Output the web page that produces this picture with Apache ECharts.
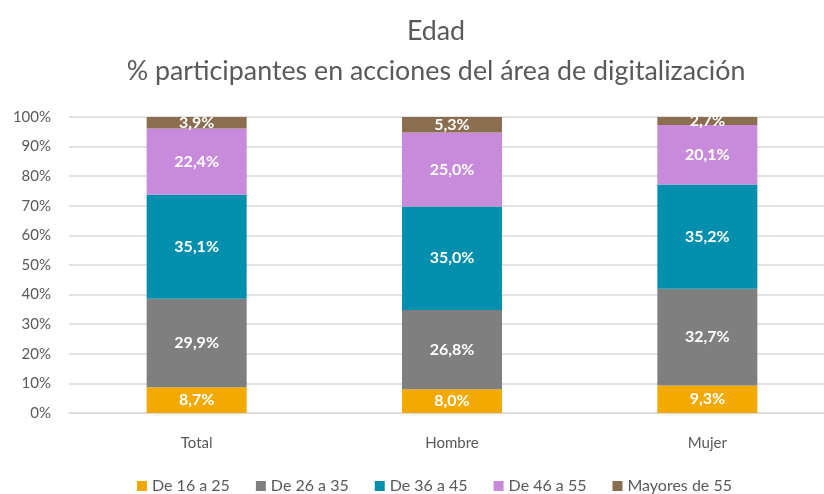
<!DOCTYPE html>
<html>
<head>
<meta charset="utf-8">
<script src="https://cdn.jsdelivr.net/npm/echarts@6/dist/echarts.min.js"></script>
<style>
  html, body { margin: 0; padding: 0; background: #fff; }
  #chart { width: 824px; height: 494px; }
</style>
</head>
<body>
<div id="chart"></div>
<script>
const categories = ['Total', 'Hombre', 'Mujer'];
const seriesNames = ['De 16 a 25', 'De 26 a 35', 'De 36 a 45', 'De 46 a 55', 'Mayores de 55'];
const de16a25 = [8.7, 8.0, 9.3];
const de26a35 = [29.9, 26.8, 32.7];
const de36a45 = [35.1, 35.0, 35.2];
const de46a55 = [22.4, 25.0, 20.1];
const mayores55 = [3.9, 5.3, 2.7];
const yTicks = [0, 10, 20, 30, 40, 50, 60, 70, 80, 90, 100];

const colors = ['#F2A900', '#7F7F7F', '#008FAC', '#C88BDB', '#8B6D4F'];
const values = [de16a25, de26a35, de36a45, de46a55, mayores55];
const font = 'Lato, "Open Sans", sans-serif';

const chart = echarts.init(document.getElementById('chart'));

chart.setOption({
  animation: false,
  color: colors,
  title: {
    text: 'Edad\n% participantes en acciones del área de digitalización',
    left: 431,
    textAlign: 'center',
    top: 6,
    textStyle: {
      fontFamily: font,
      fontWeight: 'normal',
      fontSize: 26.8,
      color: '#595959',
      lineHeight: 40
    }
  },
  legend: {
    top: 478,
    left: 137,
    padding: 0,
    itemWidth: 10,
    itemHeight: 10,
    itemGap: 26,
    icon: 'rect',
    textStyle: { fontFamily: font, fontSize: 16, color: '#595959' },
    data: seriesNames
  },
  grid: { left: 69, top: 117, width: 766, height: 296, outerBoundsMode: 'none', containLabel: false },
  xAxis: {
    type: 'category',
    data: categories,
    axisLine: { show: true, lineStyle: { color: '#d9d9d9' } },
    axisTick: { show: false },
    axisLabel: { fontFamily: font, fontSize: 15, color: '#595959', margin: 23 }
  },
  yAxis: {
    type: 'value',
    min: yTicks[0],
    max: yTicks[yTicks.length - 1],
    interval: 10,
    axisLine: { show: false },
    axisTick: { show: false },
    splitLine: { lineStyle: { color: '#d9d9d9', width: 1.5 } },
    axisLabel: {
      fontFamily: font, fontSize: 15, color: '#595959', margin: 18,
      formatter: v => v + '%'
    }
  },
  series: seriesNames.map((name, i) => ({
    name: name,
    type: 'bar',
    stack: 'total',
    barWidth: 100,
    data: values[i],
    label: {
      show: true,
      position: 'inside',
      color: '#fff',
      fontFamily: font,
      fontWeight: 'bold',
      fontSize: 16,
      formatter: p => p.value.toFixed(1).replace('.', ',') + '%'
    }
  }))
});
</script>
</body>
</html>
